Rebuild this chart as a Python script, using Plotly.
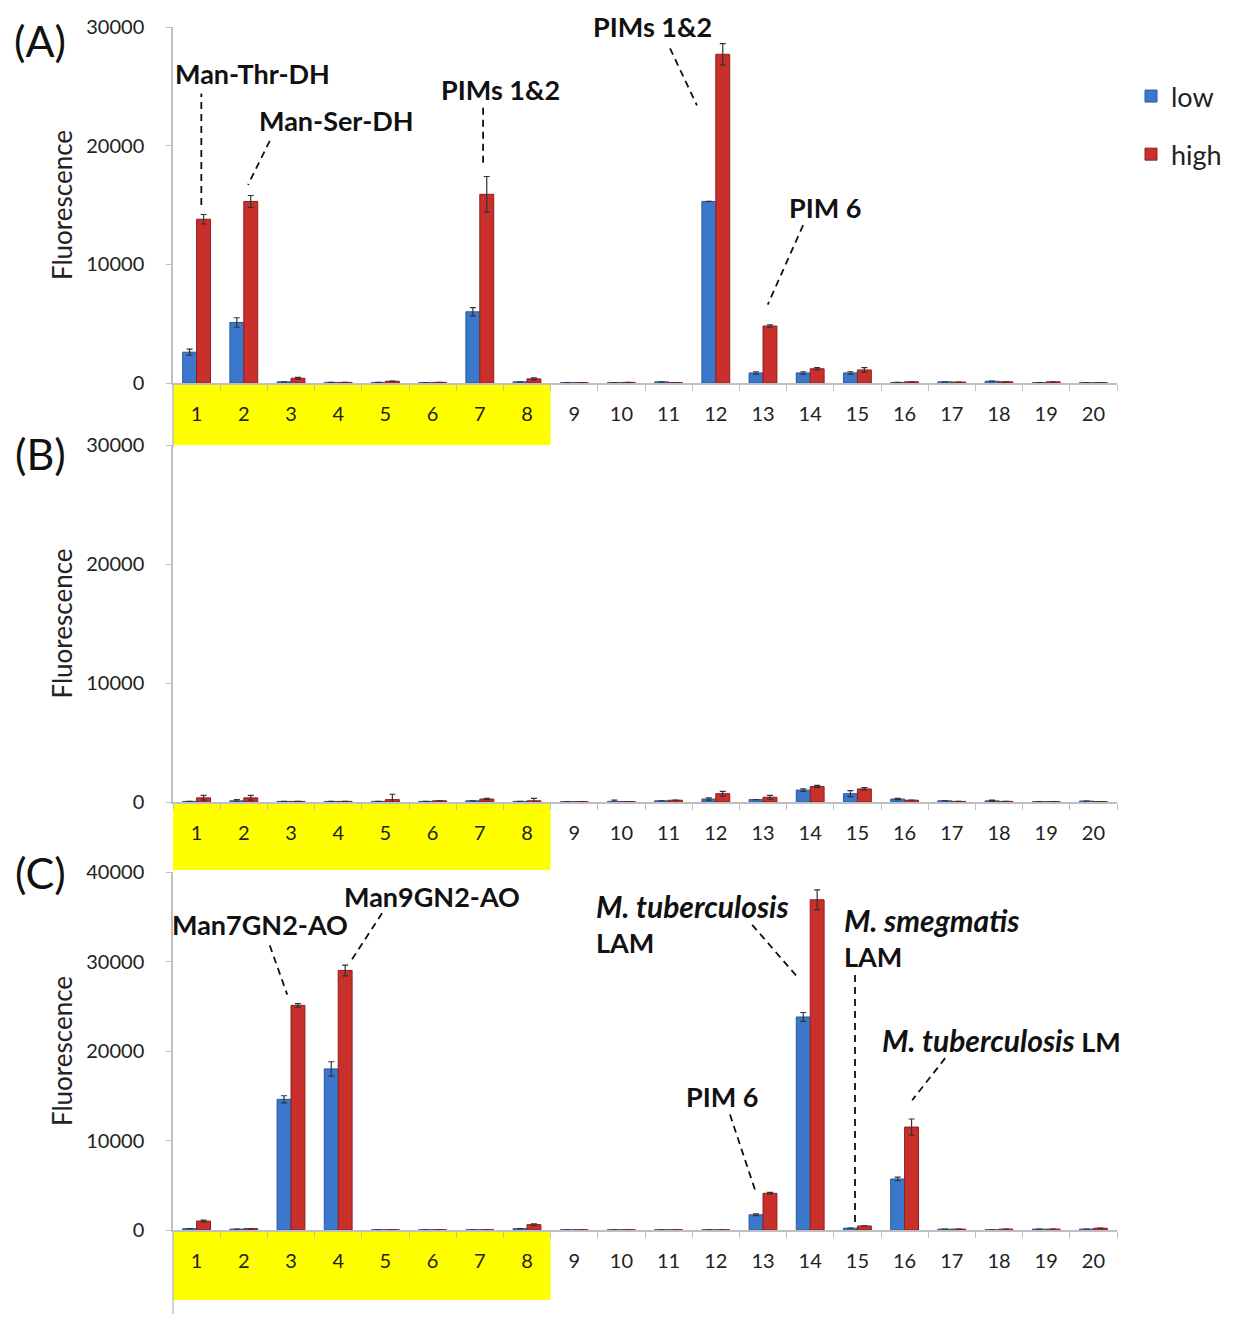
import plotly.graph_objects as go

W, H = 1235, 1317
cats = [str(i) for i in range(1, 21)]

# Panel A
a_low = [2600, 5100, 100, 50, 50, 30, 6000, 100, 30, 30, 100, 15300, 850, 850, 850, 50, 100, 150, 30, 30]
a_high = [13800, 15300, 400, 50, 150, 50, 15900, 350, 30, 50, 30, 27700, 4800, 1200, 1100, 100, 80, 100, 100, 30]
a_low_err = [250, 400, None, None, None, None, 350, None, None, None, None, None, 100, 100, 100, None, None, None, None, None]
a_high_err = [400, 500, 80, None, None, None, 1500, 80, None, None, None, 900, 100, 100, 200, None, None, None, None, None]

# Panel B
b_low = [50, 100, 50, 50, 50, 50, 100, 50, 30, 50, 100, 250, 200, 1000, 700, 250, 100, 100, 30, 80]
b_high = [350, 350, 50, 50, 200, 100, 250, 100, 30, 30, 150, 700, 400, 1300, 1100, 150, 50, 50, 30, 30]
b_low_err = [None, 100, None, None, None, None, None, None, None, 100, None, 100, None, 100, 250, 50, None, 50, None, None]
b_high_err = [200, 200, None, None, 450, None, 50, 200, None, None, None, 200, 150, 100, 100, None, None, None, None, None]

# Panel C
c_low = [150, 100, 14600, 18000, 30, 30, 30, 150, 30, 30, 30, 30, 1700, 23800, 200, 5700, 100, 30, 100, 100]
c_high = [1000, 150, 25100, 29000, 30, 30, 30, 600, 30, 30, 30, 30, 4100, 36900, 450, 11500, 100, 100, 100, 200]
c_low_err = [None, None, 400, 800, None, None, None, None, None, None, None, None, 100, 500, None, 200, None, None, None, None]
c_high_err = [100, None, 200, 600, None, None, None, 100, None, None, None, None, 100, 1100, None, 900, None, None, None, None]

BLUE = "#3B78CC"
RED = "#C9302C"
FONT = "Lato"

panels = [
    ("x", "y", a_low, a_high, a_low_err, a_high_err),
    ("x2", "y2", b_low, b_high, b_low_err, b_high_err),
    ("x3", "y3", c_low, c_high, c_low_err, c_high_err),
]

fig = go.Figure()
for i, (xa, ya, lo, hi, loe, hie) in enumerate(panels):
    fig.add_trace(go.Bar(x=cats, y=lo, name="low", marker=dict(color=BLUE, line=dict(color="#2A5A9C", width=1)),
                         error_y=dict(type="data", array=loe, color="#333333", thickness=1.2, width=3),
                         xaxis=xa, yaxis=ya, showlegend=(i == 0), legendgroup="low"))
    fig.add_trace(go.Bar(x=cats, y=hi, name="high", marker=dict(color=RED, line=dict(color="#8E1F1C", width=1)),
                         error_y=dict(type="data", array=hie, color="#333333", thickness=1.2, width=3),
                         xaxis=xa, yaxis=ya, showlegend=(i == 0), legendgroup="high"))

def py(p):
    return 1 - p / H

xdom = [173 / W, 1117 / W]
ydoms = [[py(383), py(27)], [py(802), py(445)], [py(1230), py(872)]]
yranges = [[0, 30000], [0, 30000], [0, 40000]]
yticks = [[0, 10000, 20000, 30000], [0, 10000, 20000, 30000], [0, 10000, 20000, 30000, 40000]]

axcol = "#BFBFBF"
layout = dict(
    width=W, height=H, margin=dict(l=0, r=0, t=0, b=0, autoexpand=False),
    paper_bgcolor="white", plot_bgcolor="white",
    barmode="group", bargap=0.41, bargroupgap=0.0,
    font=dict(family=FONT, color="#222222"),
    showlegend=True,
    legend=dict(x=1131 / W, y=py(72), xanchor="left", yanchor="top", font=dict(size=27, color="#222222"),
                tracegroupgap=20, bgcolor="rgba(0,0,0,0)"),
)
for i in range(3):
    sx = "" if i == 0 else str(i + 1)
    layout["xaxis" + sx] = dict(domain=xdom, anchor="y" + sx, type="category", range=[-0.5, 19.5],
                                showline=True, linecolor=axcol, linewidth=1.5, ticks="outside",
                                tickson="boundaries", ticklen=6, tickcolor=axcol, automargin=False,
                                tickfont=dict(size=20, color="#222222"), ticklabelstandoff=12,
                                showgrid=False, zeroline=False)
    layout["yaxis" + sx] = dict(domain=ydoms[i], anchor="x" + sx, range=yranges[i], tickvals=yticks[i],
                                tickformat="d", automargin=False,
                                showline=True, linecolor=axcol, linewidth=1.5, ticks="outside", ticklen=5,
                                tickcolor=axcol, tickfont=dict(size=20, color="#222222"), ticklabelstandoff=18,
                                showgrid=False, zeroline=False,
                                title=dict(text="Fluorescence", font=dict(size=26, color="#222222"), standoff=6))
fig.update_layout(**layout)

# yellow highlight boxes behind category labels 1-8, and axis extension lines
boxes = [("x", py(385), py(445)), ("x2", py(803), py(870)), ("x3", py(1231), py(1300))]
for xa, y1, y0 in boxes:
    fig.add_shape(type="rect", xref=xa, yref="paper", x0=-0.5, x1=7.5, y0=y0, y1=y1,
                  fillcolor="#FFFF00", line=dict(width=0), layer="below")
for y1, y0 in [(py(383), py(447)), (py(1230), py(1314))]:
    fig.add_shape(type="line", xref="paper", yref="paper", x0=173 / W, x1=173 / W, y0=y0, y1=y1,
                  line=dict(color=axcol, width=1.5))

# panel letters
for txt, yp in [("(A)", 40), ("(B)", 453), ("(C)", 872)]:
    fig.add_annotation(text=txt, xref="paper", yref="paper", x=40 / W, y=py(yp), showarrow=False,
                       font=dict(size=43, color="#111111", family=FONT), xanchor="center", yanchor="middle")

BF = dict(size=27, color="#111111", family=FONT)

def label(xa, ya, x, y, text, anchor="center", align="center"):
    fig.add_annotation(text=text, xref=xa, yref=ya, x=x, y=y, showarrow=False, font=BF,
                       xanchor=anchor, yanchor="middle", align=align)

def leader(xa, ya, x0, y0, x1, y1):
    fig.add_shape(type="line", xref=xa, yref=ya, x0=x0, y0=y0, x1=x1, y1=y1,
                  line=dict(color="#111111", width=1.8, dash="7px,5px"))

def ital(s):
    return '<span style="font-size:30px"><i>' + s + '</i></span>'

# Panel A annotations
label("x", "y", 1.19, 26100, "<b>Man-Thr-DH</b>")
leader("x", "y", 0.1, 15000, 0.1, 24400)
label("x", "y", 2.97, 22100, "<b>Man-Ser-DH</b>")
leader("x", "y", 1.55, 20400, 1.09, 16700)
label("x", "y", 6.43, 24700, "<b>PIMs 1&2</b>")
leader("x", "y", 6.07, 23200, 6.07, 18400)
label("x", "y", 9.65, 30000, "<b>PIMs 1&2</b>")
leader("x", "y", 10.03, 28200, 10.6, 23400)
label("x", "y", 13.31, 14800, "<b>PIM 6</b>")
leader("x", "y", 12.85, 13300, 12.1, 6600)

# Panel C annotations
label("x3", "y3", 1.34, 34100, "<b>Man7GN2-AO</b>")
leader("x3", "y3", 1.55, 31800, 1.92, 26300)
label("x3", "y3", 4.99, 37300, "<b>Man9GN2-AO</b>")
leader("x3", "y3", 3.93, 35400, 3.25, 29900)
label("x3", "y3", 8.42, 34200, "<b>" + ital("M. tuberculosis") + "</b><br><b>LAM</b>", anchor="left", align="left")
leader("x3", "y3", 11.77, 34100, 12.74, 28200)
label("x3", "y3", 13.67, 32700, "<b>" + ital("M. smegmatis") + "</b><br><b>LAM</b>", anchor="left", align="left")
leader("x3", "y3", 13.95, 28500, 13.95, 900)
label("x3", "y3", 14.48, 21200, "<b>" + ital("M. tuberculosis") + " LM</b>", anchor="left")
leader("x3", "y3", 15.86, 19200, 15.16, 14500)
label("x3", "y3", 11.13, 14900, "<b>PIM 6</b>")
leader("x3", "y3", 11.3, 12900, 11.83, 4500)

fig.write_html("out.html")
